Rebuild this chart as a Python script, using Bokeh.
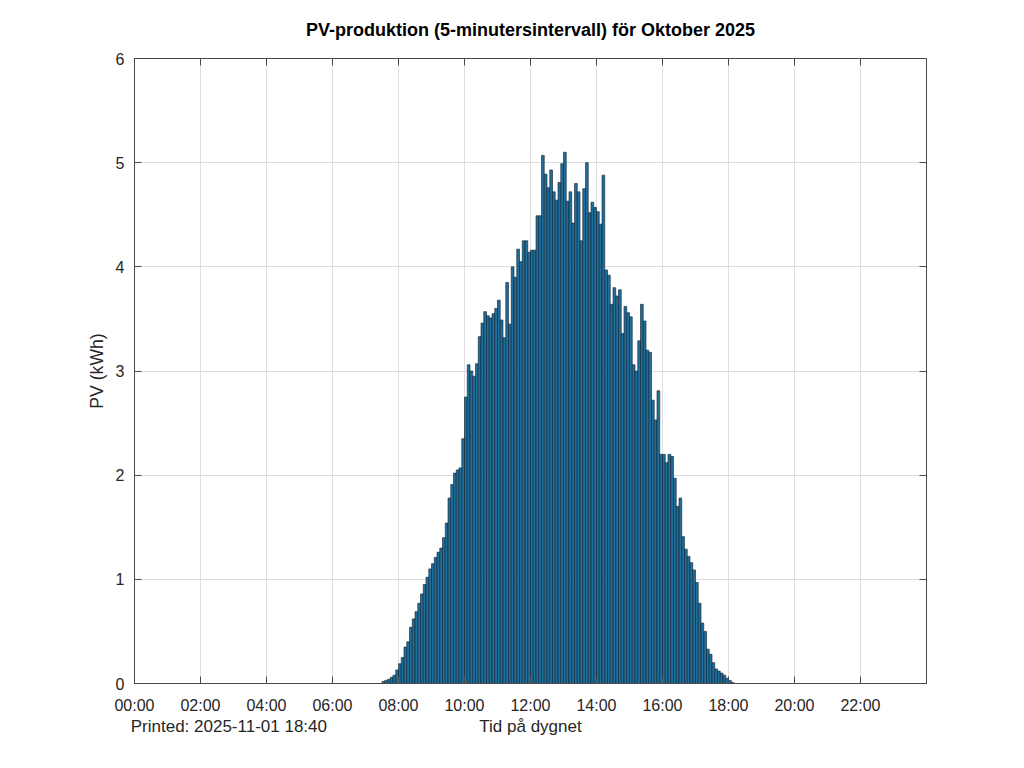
from bokeh.plotting import figure
from bokeh.models import FixedTicker, LinearAxis, Range1d, ColumnDataSource
from bokeh.embed import file_html
from bokeh.resources import INLINE

# ---------------- data ----------------
title_text = "PV-produktion (5-minutersintervall) för Oktober 2025"
x_label = "Tid på dygnet"
y_label = "PV (kWh)"
printed_text = "Printed: 2025-11-01 18:40"

start_time = "07:30"      # first 5-minute interval with production
interval_minutes = 5

pv_kwh = [
    0.02, 0.03, 0.04, 0.06, 0.08, 0.13, 0.19, 0.25, 0.35, 0.40,
    0.54, 0.62, 0.69, 0.77, 0.86, 0.95, 1.02, 1.10, 1.15, 1.21,
    1.26, 1.30, 1.40, 1.54, 1.78, 1.91, 2.02, 2.05, 2.07, 2.35,
    2.75, 3.06, 3.00, 2.95, 3.07, 3.33, 3.46, 3.57, 3.53, 3.51,
    3.55, 3.60, 3.68, 3.49, 3.32, 3.85, 3.45, 4.00, 3.90, 4.17,
    4.05, 4.25, 4.25, 4.14, 4.16, 4.16, 4.49, 4.49, 5.07, 4.89,
    4.76, 4.93, 4.72, 4.64, 4.81, 4.99, 5.10, 4.63, 4.72, 4.42,
    4.80, 4.72, 4.25, 4.75, 5.00, 4.52, 4.62, 4.57, 4.53, 4.41,
    4.88, 3.97, 3.92, 3.64, 3.80, 3.72, 3.78, 3.36, 3.62, 3.56,
    3.52, 3.06, 3.00, 3.29, 3.64, 3.48, 3.20, 3.18, 2.72, 2.53,
    2.81, 2.20, 2.20, 2.12, 2.20, 2.18, 1.97, 1.70, 1.78, 1.41,
    1.29, 1.22, 1.16, 1.09, 0.97, 0.77, 0.58, 0.50, 0.33, 0.28,
    0.20, 0.14, 0.12, 0.10, 0.08, 0.05, 0.03, 0.01,
]

x_tick_hours = [0, 2, 4, 6, 8, 10, 12, 14, 16, 18, 20, 22]
x_tick_labels = ["00:00", "02:00", "04:00", "06:00", "08:00", "10:00",
                 "12:00", "14:00", "16:00", "18:00", "20:00", "22:00"]
y_ticks = [0, 1, 2, 3, 4, 5, 6]

# anchors (in hours) under/over which the free texts are centred
title_anchor_h = 12
printed_anchor_h = 2.86
x_label_anchor_h = 12.0

# ---------------- build ----------------
h0, m0 = (int(s) for s in start_time.split(":"))
step_h = interval_minutes / 60.0
start_h = h0 + m0 / 60.0
centers = [start_h + (i + 0.5) * step_h for i in range(len(pv_kwh))]
src = ColumnDataSource(dict(x=centers, top=pv_kwh))

FONT = "Liberation Sans"
TXT = "#262626"
AX = "#4a4a4a"

p = figure(width=1008, height=752,
           x_range=Range1d(0, 24), y_range=Range1d(0, 6),
           output_backend="svg", toolbar_location=None,
           min_border_left=134, min_border_right=82,
           min_border_top=58, min_border_bottom=69,
           background_fill_color="white", border_fill_color="white")

p.outline_line_color = AX
p.outline_line_width = 1

p.vbar(x="x", top="top", width=step_h, source=src,
       fill_color="#1f6f9c", line_color="#10202c", line_width=0.6)

xt = FixedTicker(ticks=x_tick_hours)
yt = FixedTicker(ticks=y_ticks)

for ax in p.xaxis:
    ax.ticker = xt
    ax.major_label_overrides = {h: lab for h, lab in zip(x_tick_hours, x_tick_labels)}
for ax in p.yaxis:
    ax.ticker = yt
    ax.axis_label = y_label

for ax in list(p.xaxis) + list(p.yaxis):
    ax.major_tick_in = 7
    ax.major_tick_out = 0
    ax.minor_tick_line_color = None
    ax.axis_line_color = AX
    ax.major_tick_line_color = AX
    ax.major_label_text_font = FONT
    ax.major_label_text_font_size = "16px"
    ax.major_label_text_color = TXT
    ax.axis_label_text_font = FONT
    ax.axis_label_text_font_size = "17.6px"
    ax.axis_label_text_font_style = "normal"
    ax.axis_label_text_color = TXT

p.xaxis.major_label_standoff = 13
p.yaxis.major_label_standoff = 10
p.yaxis.axis_label_standoff = 6

# footer row below the tick labels: printed stamp + x-axis title
footer_ax = LinearAxis(ticker=FixedTicker(ticks=[printed_anchor_h, x_label_anchor_h]),
                       major_label_overrides={printed_anchor_h: printed_text,
                                              x_label_anchor_h: x_label},
                       major_label_text_font=FONT,
                       major_label_text_font_size="17px",
                       major_label_text_color=TXT,
                       major_label_standoff=0,
                       major_tick_in=0, major_tick_out=0,
                       minor_tick_line_color=None,
                       axis_line_color=None, major_tick_line_color=None)
p.add_layout(footer_ax, "below")

# top box edge: mirrored inward ticks, with the chart title centred above
top_overrides = {h: "" for h in x_tick_hours}
top_overrides[title_anchor_h] = title_text
top_ax = LinearAxis(ticker=FixedTicker(ticks=x_tick_hours),
                    major_label_overrides=top_overrides,
                    major_label_text_font=FONT,
                    major_label_text_font_size="18px",
                    major_label_text_font_style="bold",
                    major_label_text_color="#000000",
                    major_label_standoff=19,
                    major_tick_in=7, major_tick_out=0,
                    minor_tick_line_color=None,
                    axis_line_color=AX, major_tick_line_color=AX)
right_ax = LinearAxis(ticker=FixedTicker(ticks=y_ticks),
                      major_label_text_font_size="0px",
                      major_label_standoff=0,
                      major_tick_in=7, major_tick_out=0,
                      minor_tick_line_color=None,
                      axis_line_color=AX, major_tick_line_color=AX)
p.add_layout(top_ax, "above")
p.add_layout(right_ax, "right")

p.xgrid.ticker = xt
p.ygrid.ticker = yt
p.xgrid.grid_line_color = "#dedede"
p.ygrid.grid_line_color = "#dedede"

open("out.html", "w").write(file_html(p, INLINE))
